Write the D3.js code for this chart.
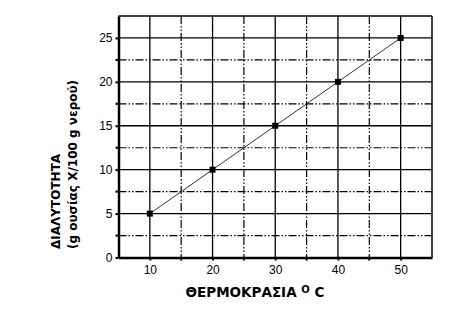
<!DOCTYPE html>
<html>
<head>
<meta charset="utf-8">
<script src="https://cdn.jsdelivr.net/npm/d3@7"></script>
<style>
  body { margin: 0; background: #fff; }
  svg { display: block; }
  .tick text { font-family: "Liberation Sans", Arial, sans-serif; font-size: 12px; fill: #000; }
</style>
</head>
<body>
<div id="chart"></div>
<script>
// data
const temps = [10, 20, 30, 40, 50];
const solub = [5, 10, 15, 20, 25];
const xTicks = [10, 20, 30, 40, 50];
const xMinor = [15, 25, 35, 45];
const yTicks = [0, 5, 10, 15, 20, 25];
const yMinor = [2.5, 7.5, 12.5, 17.5, 22.5];
const xTitle = "ΘΕΡΜΟΚΡΑΣΙΑ";
const yTitle1 = "ΔΙΑΛΥΤΟΤΗΤΑ";
const yTitle2 = "(g ουσίας Χ/100 g νερού)";

// frame
const FRAME_WIDTH = 450;
const FRAME_HEIGHT = 312;
const MARGINS = {left: 118.5, right: 18, top: 16, bottom: 54.5};
const VIS_WIDTH = FRAME_WIDTH - MARGINS.left - MARGINS.right;
const VIS_HEIGHT = FRAME_HEIGHT - MARGINS.top - MARGINS.bottom;

const svg = d3.select("#chart").append("svg")
  .attr("width", FRAME_WIDTH)
  .attr("height", FRAME_HEIGHT);

const g = svg.append("g")
  .attr("transform", "translate(" + MARGINS.left + "," + MARGINS.top + ")");

// scales
const xScale = d3.scaleLinear().domain([5, 55]).range([0, VIS_WIDTH]);
const yScale = d3.scaleLinear().domain([0, 27.5]).range([VIS_HEIGHT, 0]);

const DASH = "8,2,1.5,2,1.5,2";

// grid lines - solid on major, dash-dot-dot on minor
g.selectAll(".vmaj").data(xTicks).enter().append("line")
  .attr("x1", d => xScale(d)).attr("x2", d => xScale(d))
  .attr("y1", 0).attr("y2", VIS_HEIGHT)
  .attr("stroke", "#000").attr("stroke-width", 1.3);
g.selectAll(".vmin").data(xMinor).enter().append("line")
  .attr("x1", d => xScale(d)).attr("x2", d => xScale(d))
  .attr("y1", 0).attr("y2", VIS_HEIGHT)
  .attr("stroke", "#000").attr("stroke-width", 1.2)
  .attr("stroke-dasharray", DASH);
g.selectAll(".hmaj").data(yTicks.slice(1)).enter().append("line")
  .attr("x1", 0).attr("x2", VIS_WIDTH)
  .attr("y1", d => yScale(d)).attr("y2", d => yScale(d))
  .attr("stroke", "#000").attr("stroke-width", 1.3);
g.selectAll(".hmin").data(yMinor).enter().append("line")
  .attr("x1", 0).attr("x2", VIS_WIDTH)
  .attr("y1", d => yScale(d)).attr("y2", d => yScale(d))
  .attr("stroke", "#000").attr("stroke-width", 1.2)
  .attr("stroke-dasharray", DASH);

// top and right border
g.append("line").attr("x1", 0).attr("x2", VIS_WIDTH).attr("y1", 0).attr("y2", 0)
  .attr("stroke", "#000").attr("stroke-width", 1.5);
g.append("line").attr("x1", VIS_WIDTH).attr("x2", VIS_WIDTH).attr("y1", 0).attr("y2", VIS_HEIGHT)
  .attr("stroke", "#000").attr("stroke-width", 1.5);

// axes
const xAxis = g.append("g")
  .attr("transform", "translate(0," + VIS_HEIGHT + ")")
  .call(d3.axisBottom(xScale).tickValues(xTicks).tickSize(3).tickPadding(5).tickSizeOuter(0));
const yAxis = g.append("g")
  .call(d3.axisLeft(yScale).tickValues(yTicks).tickSize(3).tickPadding(3).tickSizeOuter(0));

xAxis.select(".domain").attr("stroke-width", 2.5);
yAxis.select(".domain").attr("stroke-width", 2.5);
xAxis.selectAll(".tick line").attr("stroke-width", 2);
yAxis.selectAll(".tick line").attr("stroke-width", 2);

// minor ticks
g.selectAll(".xmt").data(xMinor).enter().append("line")
  .attr("x1", d => xScale(d)).attr("x2", d => xScale(d))
  .attr("y1", VIS_HEIGHT).attr("y2", VIS_HEIGHT + 3)
  .attr("stroke", "#000").attr("stroke-width", 2);
g.selectAll(".ymt").data(yMinor).enter().append("line")
  .attr("x1", -3).attr("x2", 0)
  .attr("y1", d => yScale(d)).attr("y2", d => yScale(d))
  .attr("stroke", "#000").attr("stroke-width", 2);

// data line and markers
const pts = temps.map((t, i) => ({x: t, y: solub[i]}));
g.append("path")
  .datum(pts)
  .attr("fill", "none")
  .attr("stroke", "#333")
  .attr("stroke-width", 1)
  .attr("d", d3.line().x(d => xScale(d.x)).y(d => yScale(d.y)));
g.selectAll(".pt").data(pts).enter().append("rect")
  .attr("x", d => xScale(d.x) - 3)
  .attr("y", d => yScale(d.y) - 3)
  .attr("width", 6).attr("height", 6)
  .attr("fill", "#000");

// x axis title with superscript O
const xt = svg.append("text")
  .attr("x", 255).attr("y", 297)
  .attr("text-anchor", "middle")
  .attr("font-family", "'DejaVu Sans', Verdana, sans-serif")
  .attr("font-weight", "bold")
  .attr("font-size", 13.5)
  .attr("fill", "#000");
xt.append("tspan").text(xTitle + " ");
xt.append("tspan").attr("font-size", 10).attr("dy", -4).text("O");
xt.append("tspan").attr("dy", 4).text(" C");

// y axis title, two rotated lines
const yt = svg.append("text")
  .attr("transform", "translate(60,249) rotate(-90)")
  .attr("font-family", "'DejaVu Sans', Verdana, sans-serif")
  .attr("font-weight", "bold")
  .attr("font-size", 12)
  .attr("fill", "#000");
yt.append("tspan").attr("x", 0).attr("y", 0).text(yTitle1);
yt.append("tspan").attr("x", 0).attr("y", 17).text(yTitle2);
</script>
</body>
</html>
